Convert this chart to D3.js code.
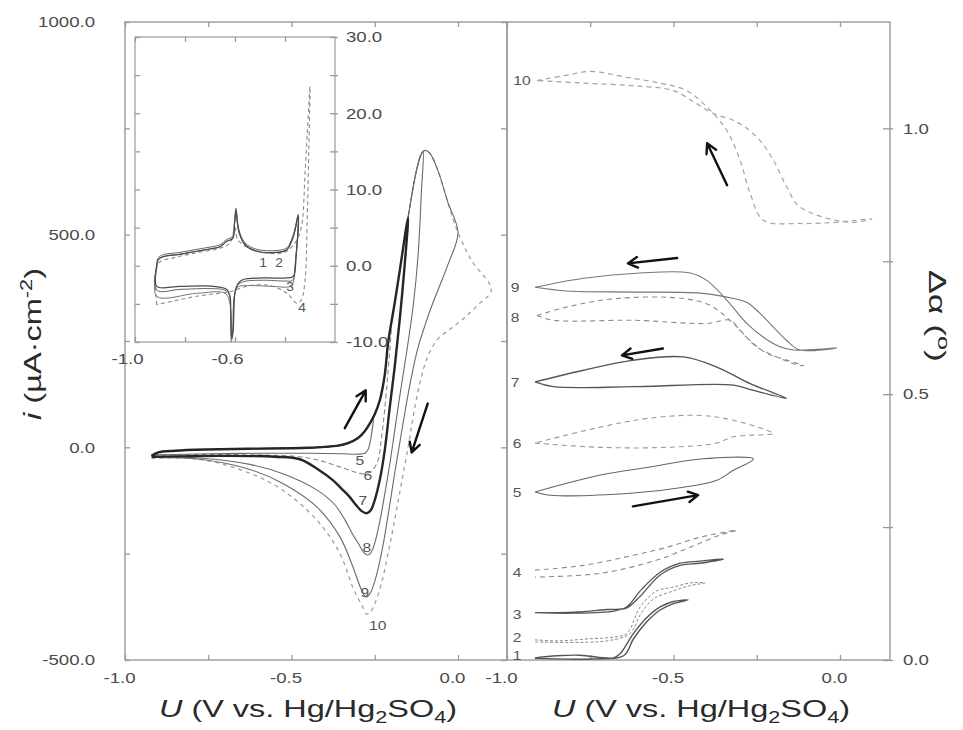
<!DOCTYPE html>
<html><head><meta charset="utf-8">
<script src="https://cdn.jsdelivr.net/npm/d3@7"></script>
<style>body{margin:0;background:#fff}svg{display:block}</style>
</head><body>
<svg id="fig" width="963" height="730"></svg>
<script>
// ---------- cyclic voltammograms, i (µA cm^-2) vs U (V) ----------
// common anodic sweep, each cycle follows it up to its vertex
const anodicSweep = [[-0.92,-20],[-0.9,-12],[-0.85,-8],[-0.75,-5],[-0.6,-3],[-0.5,-2],[-0.45,-1],[-0.4,1],[-0.36,4],[-0.33,10],[-0.3,22],[-0.28,38],[-0.265,56],[-0.25,78],[-0.235,110],[-0.22,170],[-0.21,245],[-0.19,340],[-0.175,415],[-0.15,540],[-0.125,650],[-0.11,690],[-0.1,698],[-0.085,692],[-0.06,650],[-0.03,575],[0.0,505],[0.04,440],[0.1,370]];
// return sweeps, starting at the vertex
const return5 = [[-0.255,70],[-0.262,20],[-0.27,-5],[-0.28,-14],[-0.3,-16],[-0.35,-15],[-0.45,-14],[-0.6,-14],[-0.75,-15],[-0.92,-18]];
const return6 = [[-0.2,290],[-0.21,180],[-0.22,90],[-0.23,20],[-0.24,-30],[-0.255,-52],[-0.27,-60],[-0.285,-62],[-0.3,-60],[-0.325,-54],[-0.37,-42],[-0.42,-30],[-0.475,-22],[-0.6,-18],[-0.75,-17],[-0.92,-18]];
const return7 = [[-0.15,540],[-0.16,430],[-0.175,300],[-0.19,190],[-0.205,94],[-0.22,-7],[-0.235,-77],[-0.25,-124],[-0.262,-148],[-0.274,-155],[-0.289,-150],[-0.31,-132],[-0.325,-117],[-0.35,-97],[-0.376,-77],[-0.42,-52],[-0.475,-28],[-0.55,-22],[-0.7,-20],[-0.92,-22]];
const return8 = [[-0.105,696],[-0.11,600],[-0.12,450],[-0.135,330],[-0.155,220],[-0.175,120],[-0.19,40],[-0.205,-40],[-0.22,-110],[-0.235,-175],[-0.25,-225],[-0.262,-248],[-0.272,-253],[-0.285,-245],[-0.3,-225],[-0.316,-205],[-0.34,-170],[-0.37,-135],[-0.424,-100],[-0.526,-62],[-0.625,-40],[-0.775,-25],[-0.92,-22]];
const return9 = [[0.0,505],[-0.03,430],[-0.06,370],[-0.08,330],[-0.1,285],[-0.12,235],[-0.14,165],[-0.16,80],[-0.175,10],[-0.19,-60],[-0.21,-160],[-0.23,-250],[-0.25,-315],[-0.265,-345],[-0.276,-352],[-0.29,-335],[-0.316,-280],[-0.355,-210],[-0.424,-140],[-0.526,-85],[-0.625,-52],[-0.775,-28],[-0.92,-24]];
const return10 = [[0.1,370],[0.06,335],[0.02,305],[-0.02,280],[-0.06,255],[-0.09,215],[-0.115,150],[-0.135,70],[-0.15,0],[-0.17,-85],[-0.19,-170],[-0.21,-250],[-0.23,-320],[-0.25,-368],[-0.264,-388],[-0.275,-392],[-0.286,-375],[-0.3,-355],[-0.316,-329],[-0.355,-249],[-0.424,-171],[-0.526,-101],[-0.625,-61],[-0.775,-28],[-0.92,-26]];
const cvLabels = [["5",-0.295,-30],["6",-0.271,-66],["7",-0.286,-124],["8",-0.274,-235],["9",-0.28,-340],["10",-0.241,-418]];
const cvArrows = [[-0.34,45,-0.277,134],[-0.091,103,-0.139,-12]];

// ---------- inset: first cycles, i (µA cm^-2) ----------
const insetAnodic = [[-0.913,-0.1],[-0.907,0.8],[-0.887,1.2],[-0.82,1.5],[-0.753,1.9],[-0.7,2.2],[-0.66,2.5],[-0.633,3.2],[-0.609,3.6],[-0.602,5.5],[-0.596,7.3],[-0.59,5.5],[-0.583,4.3],[-0.56,2.75],[-0.513,1.9],[-0.433,1.75],[-0.393,2.1],[-0.367,3.8],[-0.347,6.5]];
const insetCathodic1 = [[-0.347,6.5],[-0.355,1.5],[-0.367,-1.4],[-0.393,-1.6],[-0.487,-1.6],[-0.567,-1.8],[-0.587,-2.3],[-0.6,-3.5],[-0.607,-8.4],[-0.613,-9.6],[-0.617,-6],[-0.62,-4.0],[-0.633,-3.1],[-0.687,-2.7],[-0.82,-2.7],[-0.913,-2.7],[-0.913,-0.1]];
const insetCathodic2 = [[-0.347,6.5],[-0.357,1.0],[-0.37,-1.9],[-0.4,-2.0],[-0.49,-1.9],[-0.567,-2.1],[-0.59,-2.6],[-0.602,-4],[-0.609,-8.8],[-0.614,-9.4],[-0.618,-5.5],[-0.623,-3.8],[-0.64,-3.2],[-0.7,-3.0],[-0.82,-3.1],[-0.913,-3.2],[-0.913,0.2]];
const insetCathodic3 = [[-0.347,6.5],[-0.36,0],[-0.375,-2.6],[-0.45,-2.7],[-0.55,-2.6],[-0.59,-2.8],[-0.603,-4],[-0.61,-9],[-0.615,-10],[-0.62,-5],[-0.64,-3.6],[-0.75,-3.6],[-0.913,-4.0],[-0.913,-0.2]];
const insetCycle4 = [[-0.913,-5.1],[-0.907,0.3],[-0.85,1.0],[-0.753,1.7],[-0.66,2.3],[-0.62,3.0],[-0.6,5],[-0.59,3.5],[-0.55,2.4],[-0.45,1.6],[-0.4,1.8],[-0.36,3.0],[-0.335,5],[-0.32,12],[-0.31,18],[-0.3,23.5],[-0.305,15],[-0.312,5],[-0.32,-2],[-0.335,-4.5],[-0.353,-4.9],[-0.393,-3.6],[-0.46,-2.6],[-0.54,-2.6],[-0.6,-3.2],[-0.62,-3.4],[-0.753,-4.0],[-0.913,-5.1]];
const insetLabels = [["1",-0.488,0.4],["2",-0.424,0.4],["3",-0.38,-2.8],["4",-0.332,-5.5]];

// ---------- ellipsometric angle change Δα (°) vs U (V), curves offset ----------
const dAlpha1 = [[-0.916,0.004],[-0.85,0.008],[-0.78,0.009],[-0.68,0.004],[-0.66,0.012],[-0.62,0.05],[-0.58,0.08],[-0.54,0.1],[-0.5,0.11],[-0.456,0.113],[-0.5,0.106],[-0.54,0.094],[-0.58,0.072],[-0.62,0.04],[-0.65,0.008],[-0.75,0.002],[-0.916,0.003]];
const dAlpha2 = [[-0.916,0.038],[-0.85,0.036],[-0.75,0.04],[-0.68,0.043],[-0.64,0.05],[-0.6,0.1],[-0.55,0.13],[-0.5,0.137],[-0.45,0.145],[-0.405,0.145],[-0.45,0.14],[-0.5,0.13],[-0.56,0.115],[-0.6,0.085],[-0.63,0.05],[-0.7,0.036],[-0.916,0.034]];
const dAlpha3 = [[-0.916,0.089],[-0.8,0.088],[-0.68,0.092],[-0.64,0.1],[-0.6,0.13],[-0.54,0.165],[-0.48,0.182],[-0.42,0.186],[-0.35,0.19],[-0.42,0.182],[-0.48,0.178],[-0.54,0.16],[-0.6,0.12],[-0.64,0.098],[-0.7,0.095],[-0.8,0.09],[-0.916,0.089]];
const dAlpha4 = [[-0.916,0.169],[-0.77,0.178],[-0.62,0.197],[-0.52,0.212],[-0.42,0.231],[-0.31,0.244],[-0.36,0.235],[-0.45,0.212],[-0.55,0.188],[-0.72,0.163],[-0.916,0.156]];
const dAlpha5 = [[-0.916,0.316],[-0.87,0.31],[-0.62,0.314],[-0.47,0.325],[-0.37,0.338],[-0.32,0.357],[-0.26,0.378],[-0.42,0.378],[-0.57,0.363],[-0.72,0.348],[-0.916,0.316]];
const dAlpha6 = [[-0.916,0.408],[-0.72,0.4],[-0.52,0.4],[-0.37,0.408],[-0.32,0.42],[-0.2,0.426],[-0.22,0.432],[-0.32,0.451],[-0.42,0.46],[-0.57,0.455],[-0.72,0.438],[-0.916,0.408]];
const dAlpha7 = [[-0.916,0.523],[-0.86,0.514],[-0.62,0.514],[-0.32,0.517],[-0.26,0.507],[-0.16,0.492],[-0.27,0.52],[-0.37,0.551],[-0.47,0.57],[-0.62,0.564],[-0.77,0.545],[-0.916,0.523]];
const dAlpha8 = [[-0.91,0.648],[-0.82,0.664],[-0.67,0.68],[-0.47,0.68],[-0.39,0.667],[-0.32,0.633],[-0.27,0.601],[-0.22,0.577],[-0.16,0.564],[-0.11,0.554],[-0.12,0.554],[-0.19,0.57],[-0.25,0.589],[-0.3,0.62],[-0.33,0.639],[-0.4,0.633],[-0.62,0.639],[-0.86,0.639],[-0.91,0.648]];
const dAlpha9 = [[-0.916,0.701],[-0.82,0.694],[-0.62,0.692],[-0.42,0.69],[-0.32,0.68],[-0.28,0.673],[-0.24,0.652],[-0.16,0.601],[-0.12,0.583],[-0.01,0.587],[-0.14,0.583],[-0.18,0.589],[-0.23,0.607],[-0.28,0.633],[-0.34,0.677],[-0.4,0.714],[-0.45,0.728],[-0.6,0.728],[-0.77,0.718],[-0.916,0.701]];
const dAlpha10 = [[-0.91,1.09],[-0.82,1.1],[-0.75,1.107],[-0.64,1.096],[-0.54,1.085],[-0.46,1.071],[-0.39,1.034],[-0.34,0.996],[-0.3,0.94],[-0.27,0.878],[-0.23,0.827],[-0.12,0.821],[-0.02,0.823],[0.096,0.83],[0.03,0.823],[-0.12,0.852],[-0.16,0.89],[-0.2,0.94],[-0.24,0.977],[-0.28,1.0],[-0.32,1.015],[-0.38,1.028],[-0.44,1.05],[-0.5,1.071],[-0.62,1.08],[-0.77,1.085],[-0.91,1.09]];
const alphaLabels = [["1",-0.97,0.009],["2",-0.97,0.043],["3",-0.97,0.085],["4",-0.97,0.164],["5",-0.97,0.316],["6",-0.97,0.408],["7",-0.976,0.523],["8",-0.976,0.645],["9",-0.976,0.701],["10",-0.955,1.09]];
const alphaArrows = [[-0.339,0.893,-0.399,0.972],[-0.489,0.756,-0.637,0.746],[-0.532,0.586,-0.655,0.573],[-0.622,0.289,-0.426,0.31]];

// ---------- ticks ----------
const cvTicksY = [-500,-250,0,250,500,750,1000];
const cvLabelsY = [-500,0,500,1000];
const uTicks = [-1,-0.75,-0.5,-0.25,0];
const uLabels = [-1,-0.5,0];
const alphaTicksY = [0,0.25,0.5,0.75,1.0];
const alphaLabelsY = [0,0.5,1.0];
const insetTicksX = [-1,-0.8,-0.6,-0.4];
const insetLabelsX = [-1,-0.6];
const insetTicksY = [-10,-5,0,5,10,15,20,25,30];
const insetLabelsY = [-10,0,10,20,30];

// ---------- drawing ----------
const FONT = "'Liberation Sans', Arial, Helvetica, sans-serif";
const svg = d3.select("#fig");
const L = {x0:125, x1:507, y0:22, y1:660};
const R = {x0:507, x1:890, y0:22, y1:660};
const IN = {x0:135, x1:335, y0:37, y1:342};

const xL = d3.scaleLinear().domain([-1, 0]).range([125, 458]);
const yL = d3.scaleLinear().domain([-500, 1000]).range([660, 22]);
const xR = d3.scaleLinear().domain([-1, 0]).range([507, 840]);
const yR = d3.scaleLinear().domain([0, 1.2]).range([660, 22]);
const xI = d3.scaleLinear().domain([-1, -0.2]).range([135, 335]);
const yI = d3.scaleLinear().domain([-10, 30]).range([342, 37]);

// widen glyphs horizontally (the lettering is set wide)
function widen(sel, k) {
  sel.each(function() {
    const w = this.getComputedTextLength();
    if (w > 0) d3.select(this).attr("textLength", w * k).attr("lengthAdjust", "spacingAndGlyphs");
  });
}

const defs = svg.append("defs");
defs.append("clipPath").attr("id","clipL").append("rect")
  .attr("x",L.x0).attr("y",L.y0).attr("width",L.x1-L.x0).attr("height",L.y1-L.y0);
defs.append("clipPath").attr("id","clipR").append("rect")
  .attr("x",R.x0).attr("y",R.y0).attr("width",R.x1-R.x0).attr("height",R.y1-R.y0);

const FRAME = "#9a9a9a";
function frame(b, w) {
  svg.append("rect").attr("x",b.x0).attr("y",b.y0).attr("width",b.x1-b.x0).attr("height",b.y1-b.y0)
    .attr("fill","none").attr("stroke",FRAME).attr("stroke-width",w||1.4);
}

function axis(gen, transform, ticks, labels, size, pad, opts) {
  opts = opts || {};
  const g = svg.append("g").attr("transform", transform)
    .call(gen.tickValues(ticks).tickSize(size).tickPadding(pad)
      .tickFormat(d => labels.some(v => Math.abs(v - d) < 1e-9) ? d.toFixed(1) : ""));
  g.select(".domain").remove();
  g.selectAll(".tick line").attr("stroke", FRAME).attr("stroke-width", 1.3);
  if (opts.cross) g.selectAll(".tick line").attr(opts.cross[0], opts.cross[1]);
  const t = g.selectAll("text").attr("fill","#4a4a4a").attr("font-family",FONT)
    .attr("font-size", opts.fs || 15);
  if (opts.dx) t.attr("dx", opts.dx);
  widen(t, 1.24);
  return g;
}

// panel frames
frame(L); frame(R);

// left panel axes
axis(d3.axisLeft(yL), `translate(${L.x0},0)`, cvTicksY, cvLabelsY, -5, 30);
axis(d3.axisRight(yL), `translate(${L.x1},0)`, cvTicksY, [], -6, 3);
axis(d3.axisBottom(xL), `translate(0,${L.y1})`, uTicks, uLabels, -5, 12, {dx:-6});
axis(d3.axisTop(xL), `translate(0,${L.y0})`, uTicks, [], -5, 3);
// right panel axes
axis(d3.axisRight(yR), `translate(${R.x1},0)`, alphaTicksY, alphaLabelsY, -7, 13, {cross:["x1",3]});
axis(d3.axisBottom(xR), `translate(0,${R.y1})`, uTicks, uLabels, -5, 12, {dx:-6});
axis(d3.axisTop(xR), `translate(0,${R.y0})`, uTicks, [], -5, 3);

// ----- CV curves -----
const cvStyle = {
  5:{c:"#6a6a6a", w:1.1, d:null},
  6:{c:"#8a8a8a", w:1.1, d:"5,3"},
  7:{c:"#262626", w:2.4, d:null},
  8:{c:"#6a6a6a", w:1.1, d:null},
  9:{c:"#6a6a6a", w:1.1, d:null},
  10:{c:"#a0a0a0", w:1.3, d:"4,4"}
};
const cvReturns = {5:return5, 6:return6, 7:return7, 8:return8, 9:return9, 10:return10};
const lineL = d3.line().x(d => xL(d[0])).y(d => yL(d[1])).curve(d3.curveCatmullRom.alpha(0.5));
const gL = svg.append("g").attr("clip-path","url(#clipL)");
[10,9,8,6,5,7].forEach(k => {
  const ret = cvReturns[k];
  const pts = anodicSweep.filter(d => d[0] < ret[0][0] - 1e-9).concat(ret);
  const s = cvStyle[k];
  gL.append("path").attr("d", lineL(pts)).attr("fill","none")
    .attr("stroke", s.c).attr("stroke-width", s.w).attr("stroke-dasharray", s.d)
    .attr("stroke-linejoin","round");
});
const cvLab = svg.append("g").selectAll("text").data(cvLabels).join("text")
  .attr("x", d => xL(d[1])).attr("y", d => yL(d[2])).attr("dy","0.36em")
  .attr("text-anchor","middle").attr("font-family",FONT).attr("font-size",13)
  .attr("fill","#555").text(d => d[0]);
widen(cvLab, 1.2);

// ----- inset -----
svg.append("rect").attr("x",IN.x0).attr("y",IN.y0).attr("width",IN.x1-IN.x0).attr("height",IN.y1-IN.y0)
  .attr("fill","#fff");
frame(IN, 1.2);
axis(d3.axisLeft(yI), `translate(${IN.x0},0)`, insetTicksY, [], -5, 3);
axis(d3.axisRight(yI), `translate(${IN.x1},0)`, insetTicksY, insetLabelsY, -5, 11, {cross:["x1",3]});
axis(d3.axisBottom(xI), `translate(0,${IN.y1})`, insetTicksX, insetLabelsX, -5, 11, {dx:-8});
axis(d3.axisTop(xI), `translate(0,${IN.y0})`, insetTicksX, [], -5, 3);

const lineI = d3.line().x(d => xI(d[0])).y(d => yI(d[1])).curve(d3.curveCatmullRom.alpha(0.5));
const insetSeries = [
  {pts: insetCycle4, c:"#8c8c8c", w:1.1, d:"4,3"},
  {pts: insetAnodic.concat(insetCathodic3.slice(1)), c:"#777", w:1.0, d:null},
  {pts: insetAnodic.map(d => [d[0], d[1] + 0.25]).concat(insetCathodic2.slice(1)), c:"#666", w:1.0, d:null},
  {pts: insetAnodic.concat(insetCathodic1.slice(1)), c:"#4a4a4a", w:1.2, d:null}
];
insetSeries.forEach(s => {
  svg.append("path").attr("d", lineI(s.pts)).attr("fill","none")
    .attr("stroke", s.c).attr("stroke-width", s.w).attr("stroke-dasharray", s.d)
    .attr("stroke-linejoin","round");
});
const inLab = svg.append("g").selectAll("text").data(insetLabels).join("text")
  .attr("x", d => xI(d[1])).attr("y", d => yI(d[2])).attr("dy","0.36em")
  .attr("text-anchor","middle").attr("font-family",FONT).attr("font-size",12)
  .attr("fill","#555").text(d => d[0]);
widen(inLab, 1.15);

// ----- Δα curves -----
const alphaSeries = [
  {pts:dAlpha1, c:"#555", w:1.4, d:null},
  {pts:dAlpha2, c:"#8a8a8a", w:1.0, d:"3,2"},
  {pts:dAlpha3, c:"#555", w:1.3, d:null},
  {pts:dAlpha4, c:"#8a8a8a", w:1.1, d:"5,4"},
  {pts:dAlpha5, c:"#666", w:1.1, d:null},
  {pts:dAlpha6, c:"#999", w:1.1, d:"5,4"},
  {pts:dAlpha7, c:"#555", w:1.3, d:null},
  {pts:dAlpha8, c:"#8a8a8a", w:1.1, d:"5,4"},
  {pts:dAlpha9, c:"#777", w:1.1, d:null},
  {pts:dAlpha10, c:"#a3a3a3", w:1.2, d:"5,4"}
];
const lineR = d3.line().x(d => xR(d[0])).y(d => yR(d[1])).curve(d3.curveCatmullRom.alpha(0.5));
const gR = svg.append("g").attr("clip-path","url(#clipR)");
alphaSeries.forEach(s => {
  gR.append("path").attr("d", lineR(s.pts)).attr("fill","none")
    .attr("stroke", s.c).attr("stroke-width", s.w).attr("stroke-dasharray", s.d)
    .attr("stroke-linejoin","round");
});
const aLab = svg.append("g").selectAll("text").data(alphaLabels).join("text")
  .attr("x", d => xR(d[1])).attr("y", d => yR(d[2])).attr("dy","0.36em")
  .attr("text-anchor","middle").attr("font-family",FONT).attr("font-size",13)
  .attr("fill","#555").text(d => d[0]);
widen(aLab, 1.2);

// ----- arrows showing sweep direction -----
function arrow(x0, y0, x1, y1) {
  const a = Math.atan2(y1 - y0, x1 - x0), h = 11, s = 0.5;
  const p = `M${x0},${y0}L${x1},${y1}` +
    `M${x1 - h*Math.cos(a - s)},${y1 - h*Math.sin(a - s)}L${x1},${y1}` +
    `L${x1 - h*Math.cos(a + s)},${y1 - h*Math.sin(a + s)}`;
  svg.append("path").attr("d", p).attr("fill","none").attr("stroke","#111")
    .attr("stroke-width",2.4).attr("stroke-linecap","round").attr("stroke-linejoin","round");
}
cvArrows.forEach(a => arrow(xL(a[0]), yL(a[1]), xL(a[2]), yL(a[3])));
alphaArrows.forEach(a => arrow(xR(a[0]), yR(a[1]), xR(a[2]), yR(a[3])));

// ----- axis titles -----
function uTitle(cx) {
  const t = svg.append("text").attr("x", cx).attr("y", 717).attr("text-anchor","middle")
    .attr("font-family",FONT).attr("font-size",24).attr("fill","#2a2a2a");
  t.append("tspan").attr("font-style","italic").text("U");
  t.append("tspan").text(" (V vs. Hg/Hg");
  t.append("tspan").attr("font-size",16).attr("dy",6).text("2");
  t.append("tspan").attr("dy",-6).text("SO");
  t.append("tspan").attr("font-size",16).attr("dy",6).text("4");
  t.append("tspan").attr("dy",-6).text(")");
  t.attr("textLength", 298).attr("lengthAdjust","spacingAndGlyphs");
}
uTitle(308); uTitle(701);

const iT = svg.append("text").attr("transform","translate(41,344) rotate(-90)")
  .attr("text-anchor","middle").attr("font-family",FONT).attr("font-size",24).attr("fill","#2a2a2a");
iT.append("tspan").attr("font-style","italic").text("i");
iT.append("tspan").text(" (µA·cm");
iT.append("tspan").attr("font-size",16).attr("dy",-9).text("-2");
iT.append("tspan").attr("dy",9).text(")");
iT.attr("textLength",152).attr("lengthAdjust","spacingAndGlyphs");

const aT = svg.append("text").attr("transform","translate(929,316) rotate(90)")
  .attr("text-anchor","middle").attr("font-family",FONT).attr("font-size",24).attr("fill","#2a2a2a");
aT.append("tspan").text("Δα (");
aT.append("tspan").attr("font-size",17).attr("dy",-9).text("o");
aT.append("tspan").attr("dy",9).text(")");
aT.attr("textLength",92).attr("lengthAdjust","spacingAndGlyphs");
</script>
</body></html>
